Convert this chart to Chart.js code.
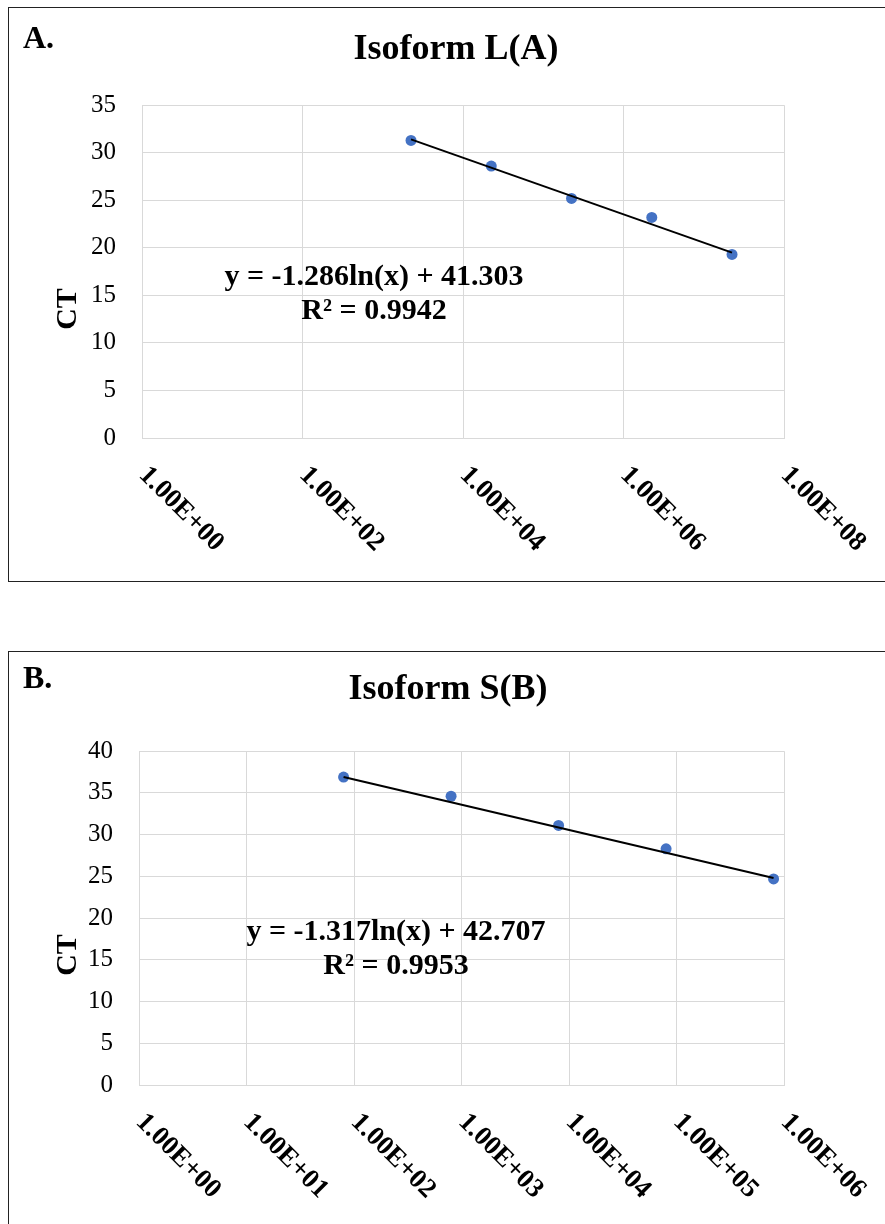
<!DOCTYPE html>
<html lang="en">
<head>
<meta charset="UTF-8">
<title>Isoform standard curves</title>
<style>
  html, body { margin: 0; background: #fff; overflow: hidden; }
  .panel { position: absolute; left: 8px; width: 900px; border: 1px solid #222; border-right: none; }
  #panelA { top: 7px; height: 573px; }
  #panelB { top: 651px; height: 620px; border-bottom: none; }
  .panel canvas { position: absolute; left: 0; top: 0; }
</style>
<script src="https://cdn.jsdelivr.net/npm/chart.js@4"></script>
</head>
<body>
<div class="panel" id="panelA"><canvas id="chartA" width="876" height="572"></canvas></div>
<div class="panel" id="panelB"><canvas id="chartB" width="876" height="572"></canvas></div>

<script>
// --- panel A: isoform L(A) ---
const titleA = 'Isoform L(A)';
const xTicksA = [1, 1e2, 1e4, 1e6, 1e8];
const xTickLabelsA = ['1.00E+00', '1.00E+02', '1.00E+04', '1.00E+06', '1.00E+08'];
const yMaxA = 35;
const copiesA = [2250, 22500, 225000, 2250000, 22500000];
const ctA = [31.3, 28.6, 25.2, 23.2, 19.3];
const trendXA = [2250, 22500000];
const trendYA = [31.4, 19.5];
const equationA = ['y = -1.286ln(x) + 41.303', 'R\u00B2 = 0.9942'];

// --- panel B: isoform S(B) ---
const titleB = 'Isoform S(B)';
const xTicksB = [1, 1e1, 1e2, 1e3, 1e4, 1e5, 1e6];
const xTickLabelsB = ['1.00E+00', '1.00E+01', '1.00E+02', '1.00E+03', '1.00E+04', '1.00E+05', '1.00E+06'];
const yMaxB = 40;
const copiesB = [80, 800, 8000, 80000, 800000];
const ctB = [36.9, 34.6, 31.1, 28.3, 24.7];
const trendXB = [80, 800000];
const trendYB = [36.9, 24.8];
const equationB = ['y = -1.317ln(x) + 42.707', 'R\u00B2 = 0.9953'];

const SERIF = '"Times New Roman", "Liberation Serif", serif';
Chart.defaults.font.family = SERIF;
Chart.defaults.color = '#000';

// draws the pieces Chart.js has no option for: slanted tick labels, panel letter, CT, equation
const annotate = {
  id: 'annotate',
  afterDraw(chart, args, opts) {
    const ctx = chart.ctx;
    const xs = chart.scales.x;
    const area = chart.chartArea;
    ctx.save();
    ctx.fillStyle = '#000';

    ctx.font = 'bold 27px ' + SERIF;
    ctx.textAlign = 'left';
    ctx.textBaseline = 'middle';
    xs.ticks.forEach((t, i) => {
      ctx.save();
      ctx.translate(xs.getPixelForValue(t.value) + 1, area.bottom + 33);
      ctx.rotate(Math.PI / 4);
      ctx.fillText(opts.tickLabels[i], 0, 0);
      ctx.restore();
    });

    ctx.font = 'bold 32px ' + SERIF;
    ctx.textBaseline = 'alphabetic';
    ctx.fillText(opts.letter, opts.letterPos[0], opts.letterPos[1]);

    ctx.save();
    ctx.font = 'bold 30px ' + SERIF;
    ctx.textAlign = 'center';
    ctx.textBaseline = 'middle';
    ctx.translate(opts.ctPos[0], opts.ctPos[1]);
    ctx.rotate(-Math.PI / 2);
    ctx.fillText('CT', 0, 0);
    ctx.restore();

    ctx.font = 'bold 30px ' + SERIF;
    ctx.textAlign = 'center';
    ctx.textBaseline = 'middle';
    opts.equation.forEach((line, i) => {
      ctx.fillText(line, opts.eqPos[0], opts.eqPos[1] + i * 34);
    });
    ctx.restore();
  }
};

function makeChart(id, p) {
  return new Chart(document.getElementById(id), {
    type: 'scatter',
    data: {
      datasets: [
        {
          label: 'Trend',
          data: p.trendX.map((x, i) => ({ x: x, y: p.trendY[i] })),
          showLine: true,
          borderColor: '#000',
          borderWidth: 2,
          pointRadius: 0,
          order: 0
        },
        {
          label: 'CT',
          data: p.x.map((x, i) => ({ x: x, y: p.y[i] })),
          backgroundColor: '#4472C4',
          borderWidth: 0,
          pointRadius: 5.5,
          order: 1
        }
      ]
    },
    options: {
      responsive: false,
      animation: false,
      events: [],
      layout: { padding: p.padding },
      plugins: {
        legend: { display: false },
        tooltip: { enabled: false },
        title: {
          display: true,
          text: p.title,
          font: { size: 36, weight: 'bold' },
          color: '#000',
          padding: p.titlePadding
        },
        annotate: {
          tickLabels: p.tickLabels,
          letter: p.letter,
          letterPos: p.letterPos,
          ctPos: p.ctPos,
          equation: p.equation,
          eqPos: p.eqPos
        }
      },
      scales: {
        x: {
          type: 'logarithmic',
          min: p.xTicks[0],
          max: p.xTicks[p.xTicks.length - 1],
          afterBuildTicks: scale => { scale.ticks = p.xTicks.map(v => ({ value: v })); },
          ticks: { display: false },
          grid: { color: '#d9d9d9', drawTicks: false },
          border: { color: '#d9d9d9' }
        },
        y: {
          min: 0,
          max: p.yMax,
          ticks: { stepSize: 5, padding: 26, font: { size: 25 }, color: '#000' },
          grid: { color: '#d9d9d9', drawTicks: false },
          border: { color: '#d9d9d9' },
          afterFit: scale => { scale.width = p.yWidth; }
        },
        // empty right-hand spacer so the title sits where it does in the original
        spacer: {
          position: 'right',
          ticks: { display: false },
          grid: { display: false, drawTicks: false },
          border: { display: false },
          afterFit: scale => { scale.width = p.spacerWidth; }
        }
      }
    },
    plugins: [annotate]
  });
}

makeChart('chartA', {
  title: titleA, xTicks: xTicksA, tickLabels: xTickLabelsA, yMax: yMaxA,
  x: copiesA, y: ctA, trendX: trendXA, trendY: trendYA, equation: equationA,
  padding: { left: 70, right: 52, top: 0, bottom: 142 }, yWidth: 63, spacerWidth: 49,
  titlePadding: { top: 20, bottom: 34 },
  letter: 'A.', letterPos: [14, 40], ctPos: [59, 301], eqPos: [365, 269]
});

makeChart('chartB', {
  title: titleB, xTicks: xTicksB, tickLabels: xTickLabelsB, yMax: yMaxB,
  x: copiesB, y: ctB, trendX: trendXB, trendY: trendYB, equation: equationB,
  padding: { left: 70, right: 68, top: 0, bottom: 139 }, yWidth: 60, spacerWidth: 33,
  titlePadding: { top: 16, bottom: 40 },
  letter: 'B.', letterPos: [14, 36], ctPos: [59, 303], eqPos: [387, 280]
});
</script>
</body>
</html>
